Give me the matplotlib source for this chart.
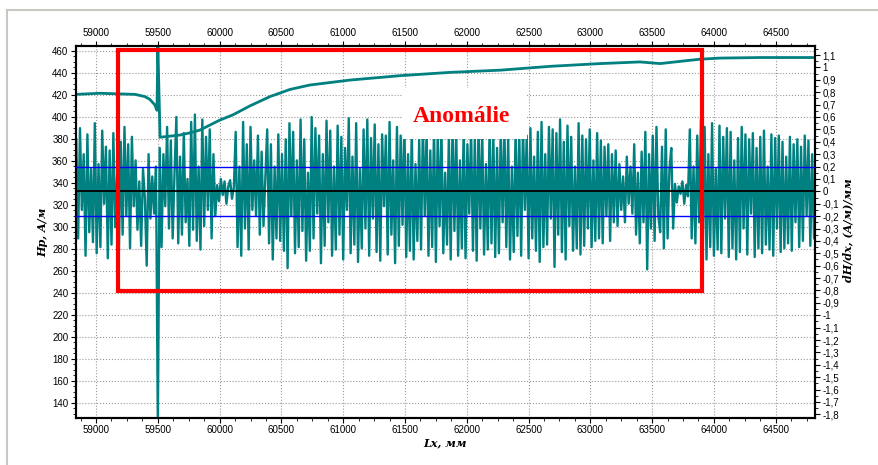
import numpy as np
import matplotlib
matplotlib.use('Agg')
import matplotlib.pyplot as plt
from matplotlib.patches import Rectangle
from matplotlib.lines import Line2D
from matplotlib.ticker import MultipleLocator, FuncFormatter

plt.rcParams['font.family'] = ['Liberation Sans', 'DejaVu Sans']
plt.rcParams['font.size'] = 7

TEAL = '#008080'

# Hp, A/m (left axis) - smooth upper curve
hp_x = [58840, 59030, 59315, 59395, 59435, 59475, 59493, 59500, 59518, 59600,
        59680, 59760, 59840, 59920, 60000, 60110, 60245, 60408, 60570, 60730,
        61055, 61460, 61865, 62270, 62675, 63080, 63400, 63565, 63725, 63890,
        64050, 64375, 64820]
hp_y = [420.5, 421.5, 420.5, 418.5, 416, 411, 406, 465, 381.5, 382.5,
        383.5, 385.5, 388, 392.5, 397, 402, 410, 418.5, 425, 429,
        433.5, 437.5, 440.5, 442.5, 446, 448.5, 450, 448.5, 450.5, 452.5,
        453.5, 454, 454]

# dH/dx, (A/m)/mm (right axis), one sample every 15 mm from 58840 mm
dhdx_start, dhdx_step = 58840, 15
dhdx = [
    # 58840 - 59290
    0.42, -0.38, 0.51, -0.15, 0.30, -0.52, 0.46, -0.33, 0.18, -0.41,
    0.55, -0.50, 0.22, -0.45, 0.49, -0.10, 0.36, -0.54, 0.33, -0.43,
    0.47, -0.29, 0.12, -0.48, 0.40, -0.35, 0.52, -0.20, 0.38, -0.46, 0.44,
    # 59305 - 59485
    -0.12, 0.25, -0.31, 0.08, -0.44, 0.18, -0.05, -0.60, 0.30, -0.22, 0.12, -0.18, 0.20,
    # 59500 spike
    -1.90,
    # 59515 - 59965
    0.35, -0.45, 0.30, -0.12, 0.52, -0.30, 0.41, -0.38, 0.15, 0.60,
    -0.42, 0.28, -0.35, 0.47, -0.25, 0.10, -0.44, 0.56, -0.31, 0.62,
    -0.40, 0.20, -0.47, 0.58, -0.28, 0.44, -0.15, 0.50, -0.38, 0.30, -0.20,
    # 59980 - 60115 quiet
    0.05, -0.08, 0.10, -0.03, 0.08, -0.10, 0.04, 0.09, -0.06, 0.03,
    # 60130 - 60535
    0.48, -0.45, 0.20, -0.52, 0.56, -0.30, 0.38, -0.47, 0.52, -0.15,
    0.25, -0.20, 0.45, -0.35, 0.32, -0.28, 0.12, 0.50, -0.42, 0.38,
    -0.55, 0.20, -0.38, 0.46, -0.40, 0.30, -0.48, 0.42,
    # 60550 - 63235
    -0.62, 0.55, -0.20, 0.48, -0.50, 0.25, -0.45, 0.58, -0.32, 0.42,
    -0.56, 0.15, -0.48, 0.60, -0.38, 0.51, -0.18, 0.45, -0.58, 0.30,
    -0.44, 0.57, -0.25, 0.49, -0.52, 0.20, -0.47, 0.53, -0.35, 0.44,
    -0.55, 0.35, -0.15, 0.59, -0.50, 0.28, -0.43, 0.55, -0.57, 0.18,
    -0.46, 0.50, -0.30, 0.58, -0.52, 0.43, -0.22, 0.54, -0.49, 0.38,
    -0.56, 0.46, -0.12, 0.45, -0.51, 0.56, -0.35, 0.25, -0.58, 0.52,
    -0.44, 0.45, -0.27, 0.57, -0.53, 0.30, -0.48, 0.50, -0.55, 0.22,
    -0.40, 0.42, -0.47, 0.55, -0.20, 0.49, -0.52, 0.33, -0.45, 0.53,
    -0.57, 0.46, -0.28, 0.51, -0.50, 0.15, -0.43, 0.44, -0.55, 0.56,
    -0.32, 0.47, -0.52, 0.25, -0.46, 0.52, -0.54, 0.38, -0.18, 0.50,
    -0.48, 0.43, -0.56, 0.54, -0.30, 0.48, -0.51, 0.22, -0.47, 0.55,
    -0.42, 0.46, -0.53, 0.35, -0.50, 0.52, -0.25, 0.49, -0.45, 0.44,
    -0.55, 0.20, -0.49, 0.50, -0.36, 0.47, -0.52, 0.53, -0.15, 0.45,
    -0.54, 0.51, -0.38, 0.28, -0.48, 0.48, -0.57, 0.56, -0.45, 0.30,
    -0.43, 0.52, -0.22, 0.50, -0.61, 0.47, -0.35, 0.58, -0.49, 0.40,
    -0.55, 0.53, -0.28, 0.44, -0.48, 0.20, -0.46, 0.55, -0.51, 0.45,
    -0.44, 0.42, -0.30, 0.50, -0.45, 0.25, -0.40, 0.47, -0.38, 0.41,
    -0.42, 0.36, -0.20, 0.38, -0.40, 0.30, -0.25, 0.33, -0.28, 0.22,
    # 63250 - 63340
    -0.15, 0.12, -0.25, 0.28, -0.10, 0.20, -0.18,
    # 63355 - 63670
    0.38, -0.35, 0.15, -0.42, 0.32, -0.25, 0.48, -0.63, 0.30, -0.30,
    0.45, -0.40, 0.52, -0.20, -0.33, 0.36, -0.46, 0.50, -0.38, 0.18,
    0.35, -0.30,
    # 63685 - 63790 quiet
    0.06, -0.09, 0.04, -0.02, 0.08, -0.10, 0.05, -0.04,
    # 63805 - 64825
    0.50, -0.38, 0.20, -0.42, 0.45, -0.25, 0.58, -0.48, 0.52, -0.55,
    0.30, -0.45, 0.55, -0.52, 0.18, -0.47, 0.53, -0.50, 0.44, -0.22,
    0.51, -0.53, 0.48, -0.46, 0.25, -0.55, 0.43, -0.49, 0.52, -0.30,
    0.46, -0.51, 0.42, -0.18, 0.47, -0.53, 0.35, -0.46, 0.44, -0.50,
    0.49, -0.43, 0.20, -0.47, 0.46, -0.52, 0.43, -0.30, 0.45, -0.49,
    0.40, -0.46, 0.28, -0.42, 0.44, -0.48, 0.38, -0.25, 0.42, -0.45,
    0.36, -0.40, 0.45, -0.20, 0.41, -0.44, 0.30, -0.38, 0.40,
]
dhdx_x = dhdx_start + dhdx_step * np.arange(len(dhdx))

zero_level = 0.0
band_levels = [0.2, -0.2]

# anomaly marking (in Lx / Hp units)
anomaly_x = [59180, 63900]
anomaly_hp = [242, 461]
label_box_x = [61484, 62487]
label_box_hp = [380, 426]
label_pos = (61953, 400)

fig = plt.figure(figsize=(8.79, 4.65), dpi=100)
ax1 = fig.add_axes([0.0865, 0.1017, 0.8407, 0.7994])
ax2 = ax1.twinx()

ax1.plot(hp_x, hp_y, color=TEAL, lw=2.0, zorder=3)
ax2.plot(dhdx_x, dhdx, color=TEAL, lw=1.7, zorder=2)
ax2.axhline(zero_level, color='black', lw=1.3, zorder=3)
for lv in band_levels:
    ax2.axhline(lv, color='#0000ff', lw=1.0, zorder=3)

ax2.add_patch(Rectangle((label_box_x[0], label_box_hp[0]),
                        label_box_x[1] - label_box_x[0], label_box_hp[1] - label_box_hp[0],
                        transform=ax1.transData, facecolor='white', edgecolor='none', zorder=4))
ax2.text(label_pos[0], label_pos[1], 'Anomálie', transform=ax1.transData,
         ha='center', va='center', color='red', fontsize=17, fontweight='bold',
         family='Liberation Serif', zorder=5)
ax2.add_patch(Rectangle((anomaly_x[0], anomaly_hp[0]),
                        anomaly_x[1] - anomaly_x[0], anomaly_hp[1] - anomaly_hp[0],
                        transform=ax1.transData, fill=False, edgecolor='red', lw=3, zorder=6))

# axes
ax1.set_xlim(58838, 64818)
ax1.set_ylim(126.4, 464.5)
ax2.set_ylim(-1.827, 1.173)

ax1.xaxis.set_major_locator(MultipleLocator(500))
ax1.xaxis.set_minor_locator(MultipleLocator(125))
ax1.yaxis.set_major_locator(MultipleLocator(20))
ax1.yaxis.set_minor_locator(MultipleLocator(5))
ax2.yaxis.set_major_locator(MultipleLocator(0.1))
ax2.yaxis.set_minor_locator(MultipleLocator(0.05))


def comma_fmt(v, pos):
    s = f'{v:.1f}'
    if s in ('-0.0', '0.0'):
        return '0'
    if s.endswith('.0'):
        s = s[:-2]
    return s.replace('.', ',')


ax2.yaxis.set_major_formatter(FuncFormatter(comma_fmt))

ax1.tick_params(axis='x', which='both', top=True, labeltop=True, bottom=True,
                labelbottom=True, direction='out', pad=2)
ax1.tick_params(axis='y', which='both', direction='out', pad=2)
ax2.tick_params(axis='y', which='both', direction='out', pad=2)
for ax in (ax1, ax2):
    ax.tick_params(which='major', length=3.5, width=0.8)
    ax.tick_params(which='minor', length=2, width=0.6)
    for sp in ax.spines.values():
        sp.set_linewidth(1.5)
        sp.set_color('black')

ax1.grid(True, which='major', color='#999999', linestyle=':', lw=0.8)

serif = dict(fontsize=8, fontweight='bold', fontstyle='italic', family='DejaVu Serif',
             ha='center', va='center')
fig.text(43 / 879, 1 - 232 / 465, 'Hp, A/м', rotation=90, **serif)
fig.text(848 / 879, 1 - 230 / 465, 'dH/dx, (A/м)/мм', rotation=90, **serif)
fig.text(445 / 879, 1 - 443 / 465, 'Lx, мм', **serif)

# light frame edge (left and top)
fig.add_artist(Line2D([7.5 / 879, 7.5 / 879], [0, 1 - 10 / 465], transform=fig.transFigure,
                      color='#c8c8c0', lw=1.5))
fig.add_artist(Line2D([7 / 879, 1], [1 - 10 / 465, 1 - 10 / 465], transform=fig.transFigure,
                      color='#c8c8c0', lw=1.5))

fig.savefig('out.png', dpi=100)
